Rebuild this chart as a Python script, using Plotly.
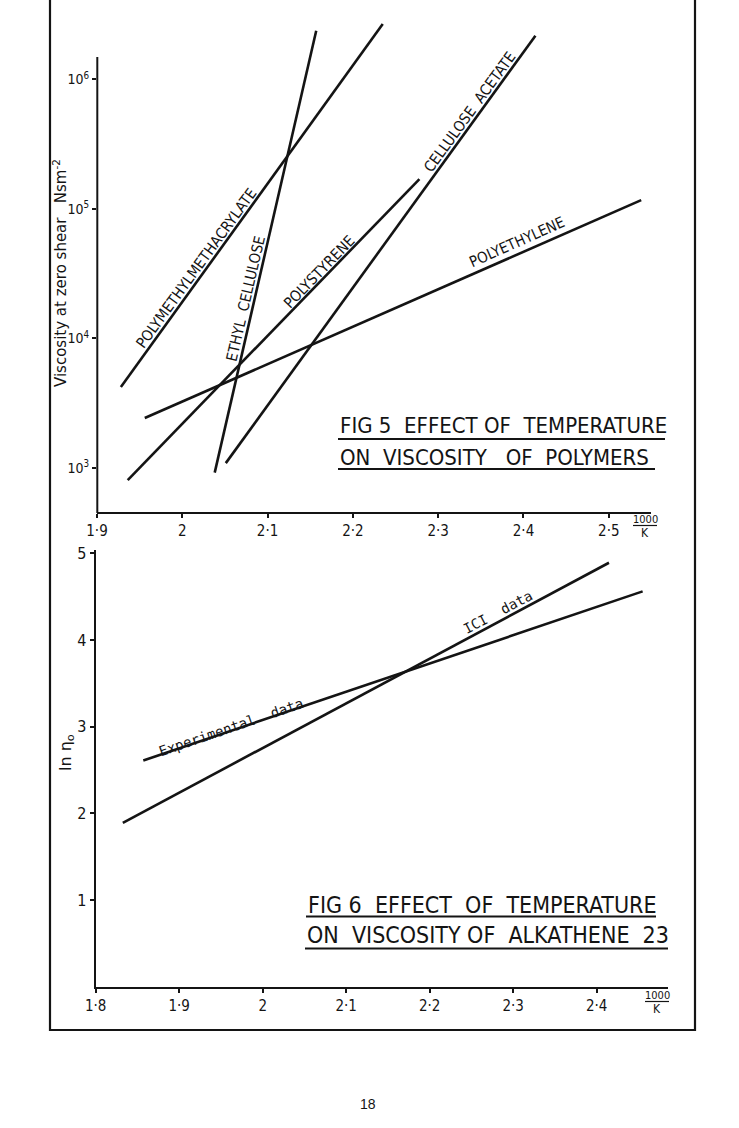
import plotly.graph_objects as go

W, H = 739, 1128

# ---------------- FIG 5 data (x = 1000/K, viscosity in N s m^-2) ----------------
pmma_x = [1.928, 2.235]
pmma_eta = [4220, 2.68e6]
ec_x = [2.038, 2.157]
ec_eta = [920, 2.38e6]
ps_x = [1.936, 2.278]
ps_eta = [807, 1.70e5]
ca_x = [2.051, 2.414]
ca_eta = [1090, 2.18e6]
pe_x = [1.956, 2.538]
pe_eta = [2430, 1.17e5]

fig5_xticks = [1.9, 2.0, 2.1, 2.2, 2.3, 2.4, 2.5]
fig5_xticktext = ["1·9", "2", "2·1", "2·2", "2·3", "2·4", "2·5"]
fig5_yticks = [1e3, 1e4, 1e5, 1e6]
fig5_yticktext = ["10<sup>3</sup>", "10<sup>4</sup>", "10<sup>5</sup>", "10<sup>6</sup>"]

# ---------------- FIG 6 data (x = 1000/K, ln eta0) ----------------
ici_x = [1.8325, 2.4147]
ici_ln = [1.89, 4.89]
exp_x = [1.857, 2.455]
exp_ln = [2.61, 4.56]

fig6_xticks = [1.8, 1.9, 2.0, 2.1, 2.2, 2.3, 2.4]
fig6_xticktext = ["1·8", "1·9", "2", "2·1", "2·2", "2·3", "2·4"]
fig6_yticks = [1, 2, 3, 4, 5]
fig6_yticktext = ["1", "2", "3", "4", "5"]


def px(x):
    return x / W


def py(y):
    return 1 - y / H


INK = "#141414"
LW = 2.6
NARROW = "Liberation Sans Narrow, DejaVu Sans Condensed, Arial Narrow, Liberation Sans, sans-serif"
SANS = "DejaVu Sans, Liberation Sans, sans-serif"
MONO = "DejaVu Sans Mono, Liberation Mono, monospace"

fig = go.Figure()

for xs, ys in [(pmma_x, pmma_eta), (ec_x, ec_eta), (ps_x, ps_eta), (ca_x, ca_eta), (pe_x, pe_eta)]:
    fig.add_trace(go.Scatter(x=xs, y=ys, mode="lines", line=dict(color=INK, width=LW),
                             xaxis="x", yaxis="y", showlegend=False, hoverinfo="skip"))

for xs, ys in [(ici_x, ici_ln), (exp_x, exp_ln)]:
    fig.add_trace(go.Scatter(x=xs, y=ys, mode="lines", line=dict(color=INK, width=LW),
                             xaxis="x2", yaxis="y2", showlegend=False, hoverinfo="skip"))

tickfont = dict(family=NARROW, size=15, color=INK)

fig.update_layout(
    template="none",
    width=W, height=H,
    margin=dict(l=0, r=0, t=0, b=0, pad=0, autoexpand=False),
    paper_bgcolor="white", plot_bgcolor="white",
    showlegend=False,
    xaxis=dict(domain=[px(97), px(651)], range=[1.9, 2.5495], anchor="y", automargin=False,
               tickvals=fig5_xticks, ticktext=fig5_xticktext, ticks="outside", ticklen=4,
               tickwidth=1.5, tickcolor=INK, showline=True, linecolor=INK, linewidth=2,
               showgrid=False, zeroline=False, tickfont=tickfont),
    yaxis=dict(type="log", domain=[py(512), py(15)], range=[2.660, 6.498], anchor="x", automargin=False,
               tickvals=fig5_yticks, ticktext=fig5_yticktext, ticks="outside", ticklen=4,
               tickwidth=1.5, tickcolor=INK, showline=False, showgrid=False, zeroline=False,
               tickfont=dict(family=NARROW, size=14, color=INK)),
    xaxis2=dict(domain=[px(95.7), px(668)], range=[1.8, 2.4854], anchor="y2", automargin=False,
                tickvals=fig6_xticks, ticktext=fig6_xticktext, ticks="outside", ticklen=4,
                tickwidth=1.5, tickcolor=INK, showline=True, linecolor=INK, linewidth=2,
                showgrid=False, zeroline=False, tickfont=tickfont),
    yaxis2=dict(domain=[py(986.7), py(550)], range=[0, 5.037], anchor="x2", automargin=False,
                tickvals=fig6_yticks, ticktext=fig6_yticktext, ticks="outside", ticklen=4,
                tickwidth=1.5, tickcolor=INK, showline=True, linecolor=INK, linewidth=2,
                showgrid=False, zeroline=False, tickfont=dict(family=NARROW, size=16, color=INK)),
)

shapes = []
# page frame
shapes.append(dict(type="rect", xref="paper", yref="paper", x0=px(50), x1=px(695), y0=py(1030), y1=py(-10),
                   line=dict(color=INK, width=2.2), fillcolor="rgba(0,0,0,0)"))
# fig 5 vertical axis line (stops below the top of the lines)
shapes.append(dict(type="line", xref="paper", yref="paper", x0=px(97.3), x1=px(97.3), y0=py(513), y1=py(57),
                   line=dict(color=INK, width=2)))
# title underlines
for x0, x1, y in [(338, 665, 439), (338, 655, 469), (306, 656, 916.5), (305, 668, 948.5)]:
    shapes.append(dict(type="line", xref="paper", yref="paper", x0=px(x0), x1=px(x1), y0=py(y), y1=py(y),
                       line=dict(color=INK, width=2)))
# 1000/K fraction bars
for x0, x1, y in [(633, 657, 525.5), (645, 669, 1001.5)]:
    shapes.append(dict(type="line", xref="paper", yref="paper", x0=px(x0), x1=px(x1), y0=py(y), y1=py(y),
                       line=dict(color=INK, width=1.2)))
fig.update_layout(shapes=shapes)

ann = []


def paper_text(x, y, text, size, family, angle=0, xanchor="center"):
    ann.append(dict(xref="paper", yref="paper", x=px(x), y=py(y), text=text, showarrow=False,
                    textangle=angle, xanchor=xanchor, yanchor="middle",
                    font=dict(family=family, size=size, color=INK)))


# line labels fig 5 (data coordinates; log axis needs log10 value)
for x, ly, t, a in [(2.0169, 4.542, "POLYMETHYLMETHACRYLATE", -54),
                    (2.0743, 4.305, "ETHYL\u00a0 CELLULOSE", -77),
                    (2.1603, 4.516, "POLYSTYRENE", -46),
                    (2.3373, 5.747, "CELLULOSE\u00a0 ACETATE", -54),
                    (2.3927, 4.743, "POLYETHYLENE", -24)]:
    ann.append(dict(xref="x", yref="y", x=x, y=ly, text=t, showarrow=False, textangle=a,
                    font=dict(family=NARROW, size=15, color=INK)))

# line labels fig 6
for x, y, t, a in [(1.9626, 3.00, "Experimental\u00a0 data", -19),
                   (2.2818, 4.318, "ICI\u00a0 data", -28)]:
    ann.append(dict(xref="x2", yref="y2", x=x, y=y, text=t, showarrow=False, textangle=a,
                    font=dict(family=MONO, size=14, color=INK)))

# titles
paper_text(338, 426, "FIG\u00a05\u00a0\u00a0EFFECT\u00a0OF\u00a0\u00a0TEMPERATURE", 22, NARROW, xanchor="left")
paper_text(338, 457.5, "ON\u00a0\u00a0VISCOSITY\u00a0\u00a0\u00a0OF\u00a0\u00a0POLYMERS", 22, NARROW, xanchor="left")
paper_text(306, 905, "FIG\u00a06\u00a0\u00a0EFFECT\u00a0\u00a0OF\u00a0\u00a0TEMPERATURE", 23, NARROW, xanchor="left")
paper_text(305, 935, "ON\u00a0\u00a0VISCOSITY\u00a0OF\u00a0\u00a0ALKATHENE\u00a0\u00a023", 23, NARROW, xanchor="left")

# axis titles
paper_text(60, 273, "Viscosity\u00a0at\u00a0zero\u00a0shear\u00a0\u00a0\u00a0Nsm<sup>-2</sup>", 15, SANS, angle=-90)
paper_text(66, 753, "ln\u00a0η<sub>o</sub>", 16, SANS, angle=-90)

# 1000/K
paper_text(645, 519, "1000", 11, NARROW)
paper_text(645, 533, "K", 12, NARROW)
paper_text(657, 995, "1000", 11, NARROW)
paper_text(657, 1009, "K", 12, NARROW)

# page number
paper_text(368, 1104, "18", 14, "Liberation Sans, sans-serif")

fig.update_layout(annotations=ann)

fig.write_html("out.html")
